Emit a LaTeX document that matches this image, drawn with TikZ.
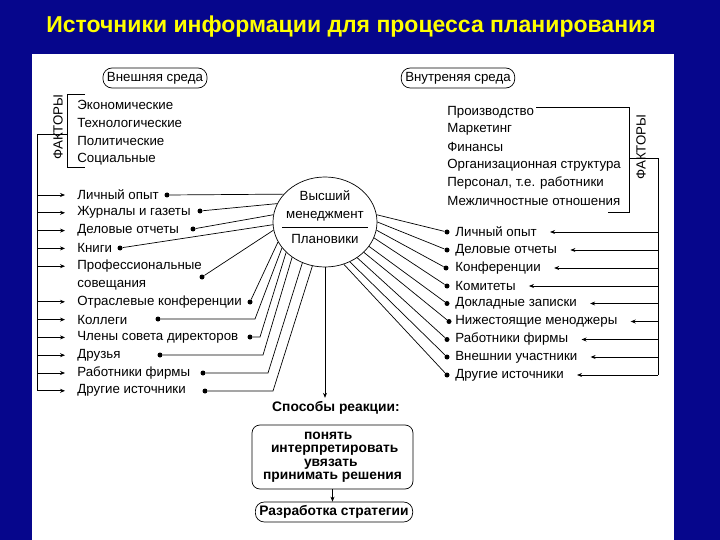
\documentclass[tikz,border=0pt]{standalone}
\usepackage{fontspec}
\setmainfont{Liberation Sans}
\usetikzlibrary{shapes.geometric,arrows.meta,positioning,calc}
\definecolor{slideblue}{RGB}{6,6,140}
\definecolor{titleyellow}{RGB}{255,255,0}

\begin{document}
\begin{tikzpicture}[
  x=1pt, y=-1pt,
  font=\fontsize{13.3}{15}\selectfont,
  item/.style={anchor=west, inner sep=0pt},
  pill/.style={draw, rounded corners=9pt, inner xsep=4pt, minimum height=20pt},
  dot/.style={circle, fill, inner sep=0pt, minimum size=5pt},
  side/.style={rotate=90, inner sep=0pt},
  bold/.style={font=\fontsize{13.8}{13.5}\selectfont\bfseries},
  line width=0.7pt,
  >={Stealth[length=5pt, width=4pt]}
]
% slide background
\fill[slideblue] (0,0) rectangle (720,540);
\fill[white] (32,54) rectangle (674,540);
\useasboundingbox (0,0) rectangle (720,540);
\node[font=\fontsize{23}{26}\selectfont\bfseries, text=titleyellow] (title) at (351,27)
  {Источники информации для процесса планирования};

% environments
\node[pill] (ext) at (155,78) {Внешняя среда};
\node[pill] (int) at (458,78) {Внутреняя среда};

% external factors
\node[item] (f1) at (77,105) {Экономические};
\node[item] (f2) at (77,123) {Технологические};
\node[item] (f3) at (77,141) {Политические};
\node[item] (f4) at (77,159) {Социальные};
\node[side] (lfac) at (58,127) {ФАКТОРЫ};
\draw (85,94) -- (67,94) -- (67,167) -- (85,167);
\coordinate (lbr) at (67,134);
\coordinate (lbus) at (37,134);

% internal factors
\node[item] (g1) at (447,112) {Производство};
\node[item] (g2) at (447,129.5) {Маркетинг};
\node[item] (g3) at (447,147) {Финансы};
\node[item] (g4) at (447,165) {Организационная структура};
\node[item] (g5) at (447,183) {Персонал, т.е. работники};
\node[item] (g6) at (447,201) {Межличностные отношения};
\node[side] (rfac) at (641,147) {ФАКТОРЫ};
\draw ([xshift=2pt]g1.east |- 0,107) -- (629,107) -- (629,212) -- (608,212);
\coordinate (rbr) at (629,158);
\coordinate (rbus) at (658,158);

% management
\node[draw, ellipse, minimum width=104pt, minimum height=90pt, inner sep=0pt] (top) at (325,222) {};
\node[align=center, inner sep=0pt] (mgr) at (325,206) {Высший\\[3pt]менеджмент};
\node[inner sep=0pt] (plan) at (325,239) {Плановики};
\draw (282,227) -- (368,227);

% left sources
\node[item] (l1) at (77,195) {Личный опыт};
\node[item] (l2) at (77,212.8) {Журналы и газеты};
\node[item] (l3) at (77,230.6) {Деловые отчеты};
\node[item] (l4) at (77,248.4) {Книги};
\node[item, align=left] (l5) at (77,275.1) {Профессиональные\\[2.8pt]совещания};
\node[item] (l6) at (77,301.8) {Отраслевые конференции};
\node[item] (l7) at (77,319.6) {Коллеги};
\node[item] (l8) at (77,337.4) {Члены совета директоров};
\node[item] (l9) at (77,355.2) {Друзья};
\node[item] (l10) at (77,373) {Работники фирмы};
\node[item] (l11) at (77,390.8) {Другие источники};

\node[dot] (d1) at (167,195) {};
\node[dot] (d2) at (200,211) {};
\node[dot] (d3) at (193,229) {};
\node[dot] (d4) at (120,248) {};
\node[dot] (d5) at (202,277) {};
\node[dot] (d6) at (250,302) {};
\node[dot] (d7) at (158,319) {};
\node[dot] (d8) at (250,337) {};
\node[dot] (d9) at (160,355) {};
\node[dot] (d10) at (203,373) {};
\node[dot] (d11) at (205,391) {};

\draw (d1) -- (top.146);
\draw (d2) -- (top.159);
\draw (d3) -- (top.172);
\draw (d4) -- (top.183);
\draw (d5) -- (top.189);
\draw (d6) -- (top.203);
\draw (d7) -- ++(97,0) -- (top.211);
\draw (d8) -- ++(10,0) -- (top.218);
\draw (d9) -- ++(103,0) -- (top.227);
\draw (d10) -- ++(65,0) -- (top.241);
\draw (d11) -- ++(68,0) -- (top.254);

\draw (lbr) -- (lbus) -- (lbus |- l11.west);
\foreach \n in {l1,l2,l3,l4,l6,l7,l8,l9,l10,l11}
  \draw[->] (lbus |- \n.west) -- ([xshift=-12pt]\n.west);
\draw[->] (lbus |- 0,266.2) -- (65,266.2);

% right sources
\node[item] (r1) at (455,232) {Личный опыт};
\node[item] (r2) at (455,250) {Деловые отчеты};
\node[item] (r3) at (455,268) {Конференции};
\node[item] (r4) at (455,286) {Комитеты};
\node[item] (r5) at (455,303.5) {Докладные записки};
\node[item] (r6) at (455,321.5) {Нижестоящие меноджеры};
\node[item] (r7) at (455,339.5) {Работники фирмы};
\node[item] (r8) at (455,357) {Внешнии участники};
\node[item] (r9) at (455,375) {Другие источники};

\node[dot] (e1) at (447,232) {};
\node[dot] (e2) at (447,250) {};
\node[dot] (e3) at (446,268) {};
\node[dot] (e4) at (447,286) {};
\node[dot] (e5) at (447,303.5) {};
\node[dot] (e6) at (449,321.5) {};
\node[dot] (e7) at (447,339.5) {};
\node[dot] (e8) at (447,357) {};
\node[dot] (e9) at (447,375) {};

\draw (top.8) -- (e1);
\draw (top.0) -- (e2);
\draw (top.351) -- (e3);
\draw (top.342) -- (e4);
\draw (top.331) -- (e5);
\draw (top.322) -- (e6);
\draw (top.312) -- (e7);
\draw (top.302) -- (e8);
\draw (top.294) -- (e9);

\draw (rbr) -- (rbus) -- (rbus |- r9.east);
\foreach \n in {r1,r2,r3,r4,r5,r6,r7,r8,r9}
  \draw[->] (rbus |- \n.east) -- ([xshift=13pt]\n.east);

% reaction
\node[bold] (ways) at (336,408) {Способы реакции:};
\draw[->] (top.south) -- (top.south |- ways.north);
\node[draw, rounded corners=8pt, bold, minimum width=161pt, minimum height=64pt, align=left] (react) at (332.5,457)
  {\hspace*{41pt}понять\\\hspace*{8pt}интерпретировать\\\hspace*{41pt}увязать\\принимать решения};
\node[pill, bold] (strat) at (334,512) {Разработка стратегии};
\draw[->] (react.south) -- (react.south |- strat.north);
\end{tikzpicture}
\end{document}
